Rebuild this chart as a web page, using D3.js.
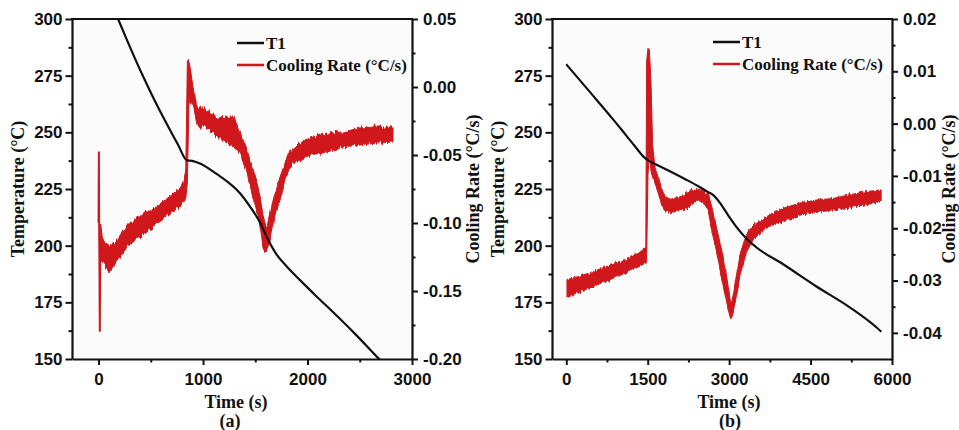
<!DOCTYPE html>
<html>
<head>
<meta charset="utf-8">
<script src="https://cdn.jsdelivr.net/npm/d3@7/dist/d3.min.js"></script>
<style>
body{margin:0;background:#fff;}
svg text{fill:#111;}
.tick text{font-family:"Liberation Sans",Arial,sans-serif;font-weight:bold;font-size:17px;fill:#111;}
.lbl{font-family:"Liberation Serif","Times New Roman",serif;font-weight:bold;font-size:18px;}
.leg{font-family:"Liberation Serif","Times New Roman",serif;font-weight:bold;font-size:17px;}
</style>
</head>
<body>
<svg id="chart" width="959" height="430"></svg>
<script>

// tick labels
var tempTicks = [150, 175, 200, 225, 250, 275, 300];
var timeTicksA = [0, 1000, 2000, 3000];
var timeTicksB = [0, 1500, 3000, 4500, 6000];
var rateTicksA = [-0.20, -0.15, -0.10, -0.05, 0.00, 0.05];
var rateTicksB = [-0.04, -0.03, -0.02, -0.01, 0.00, 0.01, 0.02];
var legendNames = ['T1', 'Cooling Rate (\u00B0C/s)'];

// (a) T1 temperature, [time s, degC]
var t1A = [[110,308.5],[187,300],[301,287.6],[416,275.7],[531,264.6],[646,254.3],[761,244.5],
	[847,237.6],[875,237.5],[905,237.3],[971,236.2],[1115,232.1],[1163,230.6],[1354,223.1],[1450,217.2],
	[1545,210.3],[1610,203.8],[1705,196.0],[1801,190.8],[1928,184.8],[2087,177.6],[2246,170.6],
	[2450,161.3],[2675,150.5],[2700,149.3]];

// (a) cooling rate: the thin start spike, then the noisy band [time, high, low]
var spikeA = [[0,-0.100],[3,-0.0475],[6,-0.105],[9,-0.135],[12,-0.180],[16,-0.125],[22,-0.110]];
var rateBandA = [[20,-0.1015,-0.1287],[40,-0.1125,-0.1287],[70,-0.1147,-0.1324],[110,-0.1169,-0.1360],
	[150,-0.1147,-0.1316],[190,-0.1110,-0.1272],[240,-0.1051,-0.1213],[285,-0.1000,-0.1162],
	[330,-0.0985,-0.1140],[381,-0.0963,-0.1110],[440,-0.0919,-0.1081],[509,-0.0904,-0.1037],
	[570,-0.0868,-0.0993],[636,-0.0831,-0.0956],[690,-0.0801,-0.0919],[732,-0.0772,-0.0904],
	[780,-0.0743,-0.0875],[812,-0.0706,-0.0853],[835,-0.0610,-0.0816],[850,0.0186,-0.0706],
	[865,0.0186,-0.0118],[876,0.0147,-0.0118],[904,0.0000,-0.0118],[943,-0.0147,-0.0265],
	[971,-0.0147,-0.0294],[1038,-0.0169,-0.0294],[1134,-0.0228,-0.0368],[1230,-0.0221,-0.0412],
	[1287,-0.0221,-0.0441],[1354,-0.0331,-0.0478],[1421,-0.0463,-0.0632],[1478,-0.0610,-0.0809],
	[1526,-0.0735,-0.0941],[1545,-0.0809,-0.1015],[1574,-0.0941,-0.1184],[1593,-0.1015,-0.1213],
	[1612,-0.1037,-0.1199],[1641,-0.0926,-0.1125],[1689,-0.0779,-0.0941],[1737,-0.0662,-0.0831],
	[1785,-0.0559,-0.0684],[1833,-0.0463,-0.0596],[1861,-0.0463,-0.0559],[1928,-0.0412,-0.0537],
	[2024,-0.0375,-0.0500],[2187,-0.0338,-0.0478],[2340,-0.0331,-0.0441],[2502,-0.0301,-0.0426],
	[2665,-0.0294,-0.0412],[2818,-0.0294,-0.0404]];

// (b) T1 temperature
var t1B = [[0,280],[410,268.5],[870,255.5],[1023,251.0],[1250,244.3],[1452,238.6],[1500,237.7],
	[1636,236.0],[1881,233.2],[2219,229.0],[2432,226.2],[2600,223.8],[2708,222.3],[2831,218.9],
	[2960,214.2],[3137,208.2],[3300,203.6],[3505,199.2],[3995,191.8],[4608,182.0],[5221,172.8],
	[5711,164.0],[5803,162.0]];

// (b) cooling rate band [time, high, low]
var rateBandB = [[13,-0.0298,-0.0333],[200,-0.0293,-0.0323],[410,-0.0286,-0.0315],[717,-0.0274,-0.0302],
	[1024,-0.0264,-0.0289],[1329,-0.0248,-0.0274],[1452,-0.0238,-0.0267],[1465,-0.0236,-0.0267],
	[1480,0.0120,-0.0260],[1505,0.0144,-0.0100],[1530,0.0140,-0.0060],[1560,0.0080,-0.0090],
	[1590,-0.0040,-0.0100],[1636,-0.0085,-0.0115],[1700,-0.0105,-0.0135],[1759,-0.0127,-0.0156],
	[1820,-0.0138,-0.0165],[1900,-0.0145,-0.0170],[2022,-0.0142,-0.0168],[2150,-0.0138,-0.0165],
	[2243,-0.0130,-0.0160],[2432,-0.0125,-0.0146],[2550,-0.0130,-0.0155],[2616,-0.0135,-0.0165],
	[2678,-0.0158,-0.0204],[2770,-0.0200,-0.0245],[2860,-0.0240,-0.0295],[2923,-0.0275,-0.0325],
	[2983,-0.0310,-0.0355],[3015,-0.0335,-0.0369],[3040,-0.0345,-0.0372],[3070,-0.0330,-0.0360],
	[3138,-0.0290,-0.0330],[3199,-0.0250,-0.0290],[3322,-0.0210,-0.0245],[3443,-0.0195,-0.0222],
	[3689,-0.0178,-0.0198],[3994,-0.0162,-0.0188],[4301,-0.0152,-0.0175],[4608,-0.0146,-0.0170],
	[4914,-0.0143,-0.0165],[5221,-0.0136,-0.0160],[5528,-0.0130,-0.0155],[5772,-0.0127,-0.0150],
	[5800,-0.0127,-0.0148]];

var svg = d3.select('#chart');
var red = '#cf171c';

var panels = [
	{id:'a', left:72, right:412, top:19, bottom:359, xDomain:[-254,3000], rateDomain:[-0.20,0.05],
		xTicks:timeTicksA, xMinor:500, rTicks:rateTicksA, rMinor:0.025, jitter:9,
		t1:t1A, band:rateBandA, spike:spikeA, xLabel:236, tag:'(a)', tagX:230, legX:237, legY:43},
	{id:'b', left:552, right:892, top:19, bottom:359, xDomain:[-263,6000], rateDomain:[-0.045,0.02],
		xTicks:timeTicksB, xMinor:750, rTicks:rateTicksB, rMinor:0.005, jitter:6,
		t1:t1B, band:rateBandB, spike:null, xLabel:729, tag:'(b)', tagX:730, legX:713, legY:42}
];

function minorTicks(ticks, step){
	var out = [];
	for(var v = ticks[0]; v < ticks[ticks.length-1] - step/2; v += 2*step){
		out.push(+(v + step).toFixed(4));
	}
	return out;
}

// rough edge for the noisy signal: vertical-only displacement
var defs = svg.append('defs');
panels.forEach(function(p){
	var f = defs.append('filter').attr('id', 'rough-' + p.id)
		.attr('filterUnits', 'userSpaceOnUse')
		.attr('x', p.left - 10).attr('y', p.top - 10)
		.attr('width', p.right - p.left + 20).attr('height', p.bottom - p.top + 20)
		.attr('color-interpolation-filters', 'sRGB');
	f.append('feTurbulence')
		.attr('type', 'fractalNoise')
		.attr('baseFrequency', '0.55 0.02')
		.attr('numOctaves', 2)
		.attr('seed', p.id == 'a' ? 4 : 9)
		.attr('result', 'noise');
	f.append('feColorMatrix')
		.attr('in', 'noise').attr('type', 'matrix')
		.attr('values', '0 0 0 0 0.5  0 1 0 0 0  0 0 0 0 0  0 0 0 0 1')
		.attr('result', 'map');
	f.append('feDisplacementMap')
		.attr('in', 'SourceGraphic').attr('in2', 'map')
		.attr('scale', p.jitter)
		.attr('xChannelSelector', 'R').attr('yChannelSelector', 'G');
});

panels.forEach(function(p){
	var x = d3.scaleLinear().domain(p.xDomain).range([p.left, p.right]);
	var yT = d3.scaleLinear().domain([150, 300]).range([p.bottom, p.top]);
	var yR = d3.scaleLinear().domain(p.rateDomain).range([p.bottom, p.top]);
	var g = svg.append('g');

	g.append('rect')
		.attr('x', p.left).attr('y', p.top)
		.attr('width', p.right - p.left).attr('height', p.bottom - p.top)
		.style('fill', '#fbfbfb');

	g.append('clipPath').attr('id', 'clip-' + p.id)
		.append('rect')
		.attr('x', p.left).attr('y', p.top)
		.attr('width', p.right - p.left).attr('height', p.bottom - p.top);

	var plot = g.append('g').attr('clip-path', 'url(#clip-' + p.id + ')');

	// cooling rate (noisy band)
	plot.append('path')
		.datum(p.band)
		.attr('d', d3.area()
			.x(function(d){ return x(d[0]); })
			.y0(function(d){ return yR(d[2]); })
			.y1(function(d){ return yR(d[1]); }))
		.attr('filter', 'url(#rough-' + p.id + ')')
		.style('fill', red)
		.style('stroke', red)
		.style('stroke-width', 1)
		.style('stroke-linejoin', 'round');

	if(p.spike){
		plot.append('path')
			.datum(p.spike)
			.attr('d', d3.line()
				.x(function(d){ return x(d[0]); })
				.y(function(d){ return yR(d[1]); }))
			.style('fill', 'none')
			.style('stroke', red)
			.style('stroke-width', 2);
	}

	// T1
	plot.append('path')
		.datum(p.t1)
		.attr('d', d3.line()
			.curve(d3.curveMonotoneX)
			.x(function(d){ return x(d[0]); })
			.y(function(d){ return yT(d[1]); }))
		.style('fill', 'none')
		.style('stroke', '#111')
		.style('stroke-width', 2.2);

	// axes
	var axes = [
		{ax: d3.axisLeft(yT).tickValues(tempTicks).tickFormat(d3.format('d')).tickSize(6.5).tickPadding(3),
			minor: d3.axisLeft(yT).tickValues(minorTicks(tempTicks, 12.5)), tr: 'translate(' + p.left + ',0)'},
		{ax: d3.axisRight(yR).tickValues(p.rTicks).tickFormat(function(d){ return d.toFixed(2); }).tickSize(6).tickPadding(5),
			minor: d3.axisRight(yR).tickValues(minorTicks(p.rTicks, p.rMinor)), tr: 'translate(' + p.right + ',0)'},
		{ax: d3.axisBottom(x).tickValues(p.xTicks).tickFormat(d3.format('d')).tickSize(6).tickPadding(8),
			minor: d3.axisBottom(x).tickValues(minorTicks(p.xTicks, p.xMinor)), tr: 'translate(0,' + p.bottom + ')'}
	];
	axes.forEach(function(a){
		g.append('g').attr('transform', a.tr)
			.call(a.minor.tickSize(3.5).tickSizeOuter(0).tickFormat(''))
			.call(function(s){ s.select('.domain').remove(); })
			.selectAll('line').style('stroke', '#111').style('stroke-width', 2);
		var s = g.append('g').attr('transform', a.tr)
			.call(a.ax.tickSizeOuter(0));
		s.select('.domain').style('stroke', '#111').style('stroke-width', 2.2);
		s.selectAll('.tick line').style('stroke', '#111').style('stroke-width', 2);
	});

	g.append('line')
		.attr('x1', p.left - 1).attr('x2', p.right + 1)
		.attr('y1', p.top).attr('y2', p.top)
		.style('stroke', '#111').style('stroke-width', 2.2);

	// axis titles
	g.append('text').attr('class', 'lbl')
		.attr('text-anchor', 'middle')
		.attr('transform', 'translate(' + (p.left - 48) + ',' + ((p.top + p.bottom)/2) + ') rotate(-90)')
		.text('Temperature (\u00B0C)');
	g.append('text').attr('class', 'lbl')
		.attr('text-anchor', 'middle')
		.attr('transform', 'translate(' + Math.min(p.right + 67, 955) + ',' + ((p.top + p.bottom)/2) + ') rotate(-90)')
		.text('Cooling Rate (\u00B0C/s)');
	g.append('text').attr('class', 'lbl')
		.attr('text-anchor', 'middle')
		.attr('x', p.xLabel).attr('y', 408)
		.text('Time (s)');
	g.append('text').attr('class', 'lbl')
		.attr('text-anchor', 'middle')
		.attr('x', p.tagX).attr('y', 427)
		.text(p.tag);

	// legend
	var leg = g.append('g');
	leg.selectAll('line')
		.data(legendNames)
		.enter()
		.append('line')
		.attr('x1', p.legX).attr('x2', p.legX + 27)
		.attr('y1', function(d, i){ return p.legY + i*22; })
		.attr('y2', function(d, i){ return p.legY + i*22; })
		.style('stroke', function(d, i){ return i ? red : '#111'; })
		.style('stroke-width', 2.5);
	leg.selectAll('text')
		.data(legendNames)
		.enter()
		.append('text')
		.attr('class', 'leg')
		.attr('x', p.legX + 29)
		.attr('y', function(d, i){ return p.legY + i*22 + 6; })
		.text(function(d){ return d; });
});

</script>
</body>
</html>
